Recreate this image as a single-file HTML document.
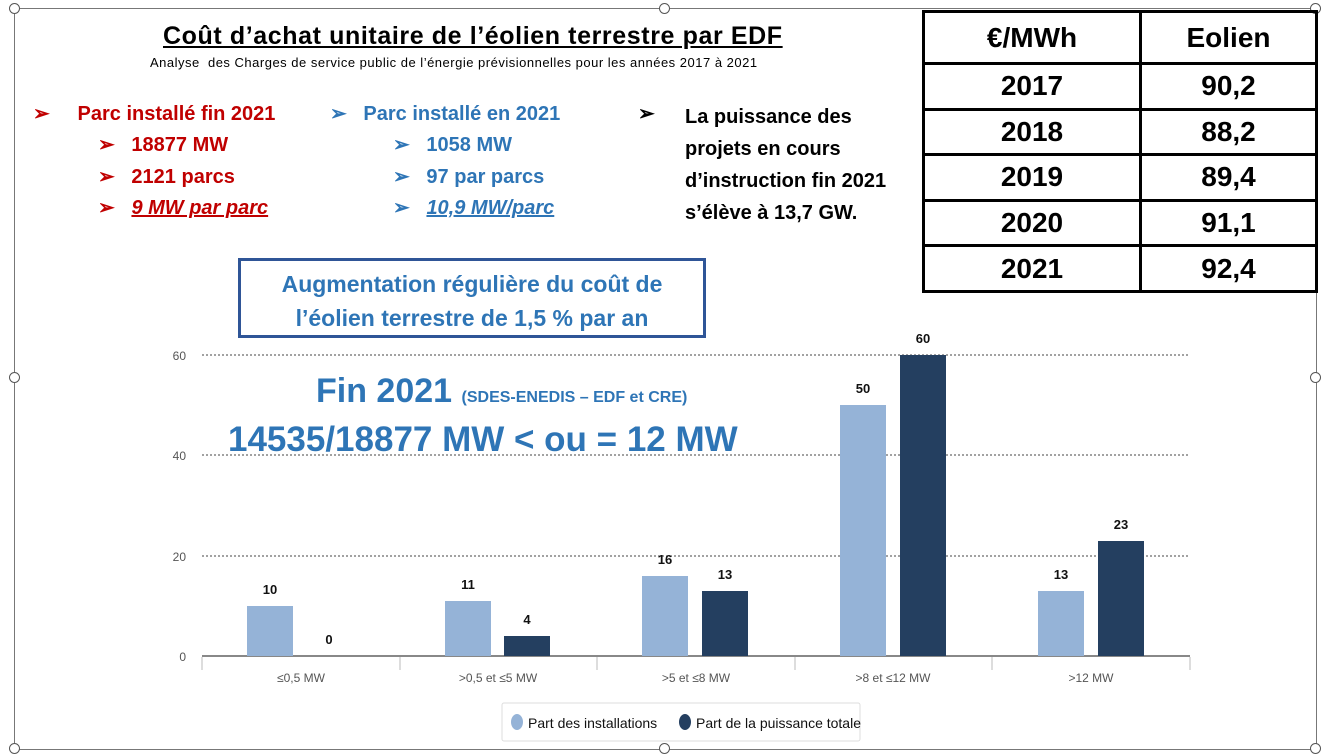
<!DOCTYPE html>
<html><head><meta charset="utf-8"><style>
body{margin:0;width:1329px;height:755px;background:#fff;position:relative;overflow:hidden;font-family:"Liberation Sans",sans-serif;}
.a{position:absolute;white-space:nowrap;}
.frame{position:absolute;left:14px;top:8px;width:1301px;height:740px;border:1px solid #777;}
.h{position:absolute;width:9px;height:9px;border:1px solid #555;border-radius:50%;background:#fff;}
table{position:absolute;left:922px;top:10px;width:393px;height:283px;border-collapse:collapse;table-layout:fixed;}
td{border:3px solid #000;text-align:center;font-family:"Liberation Sans",sans-serif;font-weight:bold;font-size:28px;padding:0;}
.red{color:#c00000;font-weight:bold;font-size:20px;}
.blu{color:#2e75b6;font-weight:bold;font-size:20px;}
.blk{color:#000;font-weight:bold;font-size:20px;}
</style></head><body>
<div class="frame"></div>
<div class="h" style="left:9px;top:3px"></div><div class="h" style="left:659px;top:3px"></div><div class="h" style="left:1310px;top:3px"></div>
<div class="h" style="left:9px;top:372px"></div><div class="h" style="left:1310px;top:372px"></div>
<div class="h" style="left:9px;top:743px"></div><div class="h" style="left:659px;top:743px"></div><div class="h" style="left:1310px;top:743px"></div>

<div class="a" style="left:163px;top:22px;font-size:25px;font-weight:bold;text-decoration:underline;letter-spacing:0.6px">Coût d’achat unitaire de l’éolien terrestre par EDF</div>
<div class="a" style="left:150px;top:55px;font-size:13px;letter-spacing:0.5px">Analyse &nbsp;des Charges de service public de l’énergie prévisionnelles pour les années 2017 à 2021</div>

<div class="a red" style="left:33px;top:101px">➢ &nbsp;&nbsp;&nbsp;&nbsp;Parc installé fin 2021</div>
<div class="a red" style="left:98px;top:132px">➢ &nbsp;&nbsp;18877 MW</div>
<div class="a red" style="left:98px;top:164px">➢ &nbsp;&nbsp;2121 parcs</div>
<div class="a red" style="left:98px;top:195px">➢ &nbsp;&nbsp;<i style="text-decoration:underline">9 MW par parc</i></div>

<div class="a blu" style="left:330px;top:101px">➢ &nbsp;&nbsp;Parc installé en 2021</div>
<div class="a blu" style="left:393px;top:132px">➢ &nbsp;&nbsp;1058 MW</div>
<div class="a blu" style="left:393px;top:164px">➢ &nbsp;&nbsp;97 par parcs</div>
<div class="a blu" style="left:393px;top:195px">➢ &nbsp;&nbsp;<i style="text-decoration:underline">10,9 MW/parc</i></div>

<div class="a blk" style="left:638px;top:101px">➢</div>
<div class="a blk" style="left:685px;top:101px;line-height:32px">La puissance des<br>projets en cours<br>d’instruction fin 2021<br>s’élève à 13,7 GW.</div>

<table>
<colgroup><col style="width:217px"><col style="width:176px"></colgroup>
<tr style="height:52px"><td>€/MWh</td><td>Eolien</td></tr>
<tr><td>2017</td><td>90,2</td></tr>
<tr><td>2018</td><td>88,2</td></tr>
<tr><td>2019</td><td>89,4</td></tr>
<tr><td>2020</td><td>91,1</td></tr>
<tr><td>2021</td><td>92,4</td></tr>
</table>

<div class="a" style="left:238px;top:258px;width:468px;height:80px;border:3px solid #2f5597;color:#2e75b6;font-weight:bold;font-size:23px;text-align:center;line-height:34px;padding-top:6px;box-sizing:border-box;white-space:normal">Augmentation régulière du coût de<br>l’éolien terrestre de 1,5 % par an</div>

<svg class="a" style="left:0;top:0" width="1329" height="755">
<g stroke="#444" stroke-dasharray="2,2" stroke-width="1">
<line x1="202" y1="355" x2="1190" y2="355"/><line x1="202" y1="455" x2="1190" y2="455"/><line x1="202" y1="556" x2="1190" y2="556"/></g>
<line x1="202" y1="656" x2="1190" y2="656" stroke="#888" stroke-width="2"/>
<g stroke="#bbb"><line x1="202" y1="657" x2="202" y2="670"/><line x1="400" y1="657" x2="400" y2="670"/><line x1="597" y1="657" x2="597" y2="670"/><line x1="795" y1="657" x2="795" y2="670"/><line x1="992" y1="657" x2="992" y2="670"/><line x1="1190" y1="657" x2="1190" y2="670"/></g>
<g font-family="Liberation Sans,sans-serif" font-size="12" fill="#555" text-anchor="end">
<text x="186" y="360">60</text><text x="186" y="460">40</text><text x="186" y="561">20</text><text x="186" y="661">0</text></g>
<g fill="#95b3d7"><rect x="247" y="606" width="46" height="50"/><rect x="445" y="601" width="46" height="55"/><rect x="642" y="576" width="46" height="80"/><rect x="840" y="405" width="46" height="251"/><rect x="1038" y="591" width="46" height="65"/></g>
<g fill="#243f60"><rect x="504" y="636" width="46" height="20"/><rect x="702" y="591" width="46" height="65"/><rect x="900" y="355" width="46" height="301"/><rect x="1098" y="541" width="46" height="115"/></g>
<g font-family="Liberation Sans,sans-serif" font-size="13" font-weight="bold" text-anchor="middle" fill="#111">
<text x="270" y="594">10</text><text x="329" y="644">0</text><text x="468" y="589">11</text><text x="527" y="624">4</text><text x="665" y="564">16</text><text x="725" y="579">13</text><text x="863" y="393">50</text><text x="923" y="343">60</text><text x="1061" y="579">13</text><text x="1121" y="529">23</text></g>
<g font-family="Liberation Sans,sans-serif" font-size="12" fill="#555" text-anchor="middle">
<text x="301" y="682">≤0,5 MW</text><text x="498" y="682">&gt;0,5 et ≤5 MW</text><text x="696" y="682">&gt;5 et ≤8 MW</text><text x="893" y="682">&gt;8 et ≤12 MW</text><text x="1091" y="682">&gt;12 MW</text></g>
<rect x="502" y="703" width="358" height="38" fill="#fff" stroke="#ddd" rx="2"/>
<ellipse cx="517" cy="722" rx="6" ry="8" fill="#95b3d7"/><ellipse cx="685" cy="722" rx="6" ry="8" fill="#243f60"/>
<g font-family="Liberation Sans,sans-serif" font-size="14" fill="#111"><text x="528" y="728">Part des installations</text><text x="696" y="728">Part de la puissance totale</text></g>
</svg>

<div class="a" style="left:316px;top:372px;color:#2e75b6;font-weight:bold;font-size:34px;font-family:'Liberation Sans',sans-serif">Fin 2021 <span style="font-size:16px">(SDES-ENEDIS – EDF et CRE)</span></div>
<div class="a" style="left:228px;top:420px;color:#2e75b6;font-weight:bold;font-size:35px;font-family:'Liberation Sans',sans-serif">14535/18877 MW &lt; ou = 12 MW</div>
</body></html>
